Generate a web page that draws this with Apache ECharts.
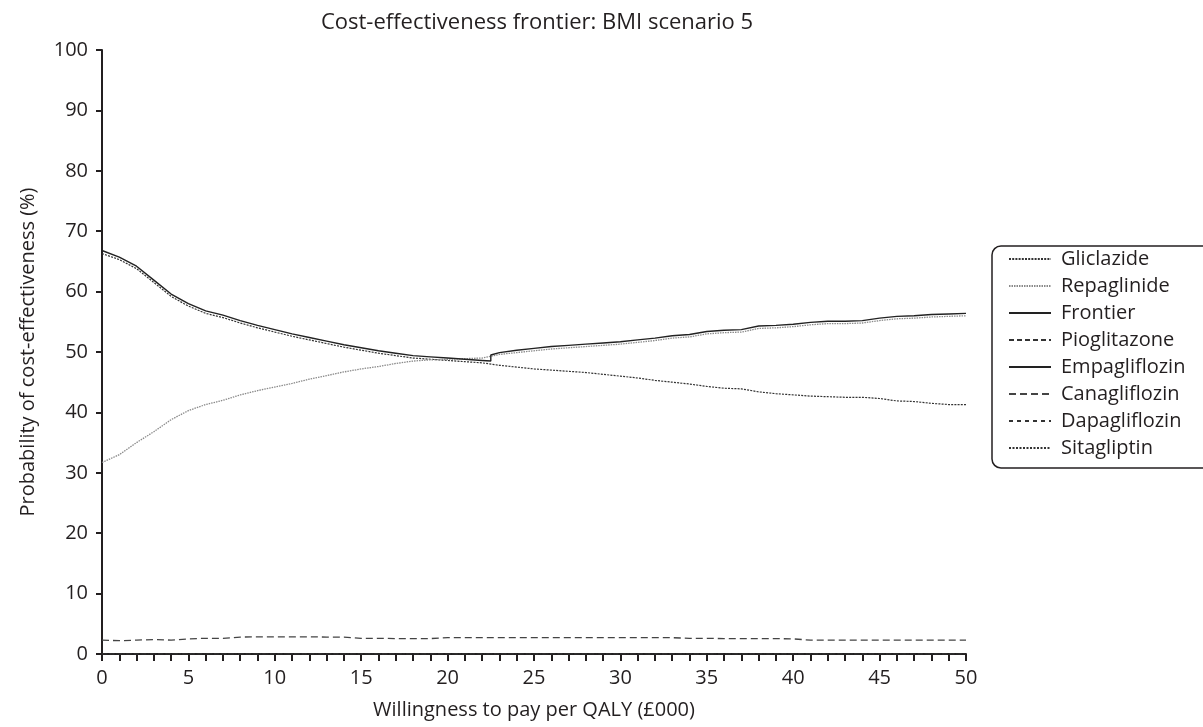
<!DOCTYPE html>
<html>
<head>
<meta charset="utf-8">
<script src="https://cdn.jsdelivr.net/npm/echarts@6/dist/echarts.min.js"></script>
<style>html,body{margin:0;padding:0;background:#fff;}#c{width:1203px;height:727px;}</style>
</head>
<body>
<div id="c"></div>
<script>
const titleText = 'Cost-effectiveness frontier: BMI scenario 5';
const xName = 'Willingness to pay per QALY (£000)';
const yName = 'Probability of cost-effectiveness (%)';
const seriesNames = ['Gliclazide','Repaglinide','Frontier','Pioglitazone','Empagliflozin','Canagliflozin','Dapagliflozin','Sitagliptin'];

const wtp = [0,1,2,3,4,5,6,7,8,9,10,11,12,13,14,15,16,17,18,19,20,21,22,23,24,25,26,27,28,29,30,31,32,33,34,35,36,37,38,39,40,41,42,43,44,45,46,47,48,49,50];

const gliclazide = [66.3,65.3,63.8,61.5,59.2,57.6,56.4,55.7,54.8,54.0,53.3,52.6,52.0,51.4,50.8,50.3,49.8,49.4,49.0,48.8,48.6,48.4,48.2,47.8,47.5,47.2,47.0,46.8,46.6,46.3,46.0,45.7,45.3,45.0,44.7,44.3,44.0,43.9,43.4,43.1,42.9,42.7,42.6,42.5,42.5,42.3,41.9,41.8,41.5,41.3,41.3];
const repaglinide = [31.7,33.0,35.0,36.8,38.8,40.3,41.3,42.0,42.9,43.6,44.2,44.8,45.5,46.1,46.7,47.2,47.6,48.1,48.5,48.7,48.8,48.9,49.0,49.6,49.9,50.2,50.5,50.7,50.9,51.1,51.3,51.6,51.9,52.3,52.5,53.0,53.2,53.3,53.9,54.0,54.2,54.5,54.7,54.7,54.8,55.2,55.5,55.6,55.8,55.9,56.0];
const frontierX = [0,1,2,3,4,5,6,7,8,9,10,11,12,13,14,15,16,17,18,19,20,21,22,22.5,22.5,23,24,25,26,27,28,29,30,31,32,33,34,35,36,37,38,39,40,41,42,43,44,45,46,47,48,49,50];
const frontierY = [66.8,65.7,64.2,61.9,59.6,58.0,56.8,56.1,55.2,54.4,53.7,53.0,52.4,51.8,51.2,50.7,50.2,49.8,49.4,49.2,49.0,48.8,48.6,48.5,49.5,49.9,50.3,50.6,50.9,51.1,51.3,51.5,51.7,52.0,52.3,52.7,52.9,53.4,53.6,53.7,54.3,54.4,54.6,54.9,55.1,55.1,55.2,55.6,55.9,56.0,56.2,56.3,56.4];
const pioglitazone = [0,0,0,0,0,0,0,0,0,0,0,0,0,0,0,0,0,0,0,0,0,0,0,0,0,0,0,0,0,0,0,0,0,0,0,0,0,0,0,0,0,0,0,0,0,0,0,0,0,0,0];
const empagliflozin = [0,0,0,0,0,0,0,0,0,0,0,0,0,0,0,0,0,0,0,0,0,0,0,0,0,0,0,0,0,0,0,0,0,0,0,0,0,0,0,0,0,0,0,0,0,0,0,0,0,0,0];
const canagliflozin = [2.3,2.2,2.3,2.4,2.3,2.5,2.6,2.6,2.8,2.85,2.85,2.85,2.85,2.8,2.8,2.6,2.6,2.55,2.55,2.55,2.7,2.7,2.7,2.7,2.7,2.7,2.7,2.7,2.7,2.7,2.7,2.7,2.7,2.7,2.6,2.6,2.55,2.55,2.55,2.55,2.5,2.3,2.3,2.3,2.3,2.3,2.3,2.3,2.3,2.3,2.3];
const dapagliflozin = [0,0,0,0,0,0,0,0,0,0,0,0,0,0,0,0,0,0,0,0,0,0,0,0,0,0,0,0,0,0,0,0,0,0,0,0,0,0,0,0,0,0,0,0,0,0,0,0,0,0,0];
const sitagliptin = [0,0,0,0,0,0,0,0,0,0,0,0,0,0,0,0,0,0,0,0,0,0,0,0,0,0,0,0,0,0,0,0,0,0,0,0,0,0,0,0,0,0,0,0,0,0,0,0,0,0,0];

const FONT = 'Open Sans';
const INK = '#231f20';
const CLEAR = 'rgba(0,0,0,0)';

function pairs(xs, ys){ return xs.map((x,i)=>[x, ys[i]]); }
function mk(name, xs, ys, color, type, width, z){
  return {name, type:'line', data:pairs(xs, ys), symbol:'none', silent:true, z:z||2,
    lineStyle:{color, type, width}, itemStyle:{color:CLEAR, borderWidth:0}};
}

const chart = echarts.init(document.getElementById('c'));
chart.setOption({
  animation:false,
  backgroundColor:'#fff',
  textStyle:{fontFamily:FONT, color:INK},
  title:{text:titleText, left:532, textAlign:'center', top:7,
    textStyle:{fontFamily:FONT, fontSize:22, fontWeight:'normal', color:INK}},
  grid:{left:102, right:237, top:50, bottom:73, containLabel:false},
  xAxis:{type:'value', min:0, max:50, interval:5,
    name:xName, nameLocation:'middle', nameGap:46,
    nameTextStyle:{fontFamily:FONT, fontSize:20, color:INK},
    axisLine:{lineStyle:{color:INK, width:2}},
    axisTick:{show:true, inside:false, length:7, lineStyle:{color:INK, width:2}},
    minorTick:{show:true, splitNumber:5, length:7, lineStyle:{color:INK, width:2}},
    axisLabel:{fontFamily:FONT, fontSize:20, color:INK, margin:14},
    splitLine:{show:false}},
  yAxis:{type:'value', min:0, max:100, interval:10,
    name:yName, nameLocation:'middle', nameGap:64,
    nameTextStyle:{fontFamily:FONT, fontSize:20, color:INK},
    axisLine:{show:true, lineStyle:{color:INK, width:2}},
    axisTick:{show:true, inside:false, length:6, lineStyle:{color:INK, width:2}},
    axisLabel:{fontFamily:FONT, fontSize:20, color:INK, margin:14},
    splitLine:{show:false}},
  legend:{orient:'vertical', left:992, top:246, itemWidth:42, itemHeight:10, itemGap:7,
    padding:[3,30,10,16], borderColor:INK, borderWidth:1.5, borderRadius:9,
    itemStyle:{color:CLEAR, borderWidth:0, borderColor:CLEAR, opacity:0},
    textStyle:{fontFamily:FONT, fontSize:20, color:INK, padding:[0,0,0,5]},
    data:seriesNames},
  series:[
    mk('Gliclazide', wtp, gliclazide, '#333', [2,1.2], 1.2, 3),
    mk('Repaglinide', wtp, repaglinide, '#8a8a8a', [1.5,1], 1.3, 3),
    mk('Frontier', frontierX, frontierY, '#222', 'solid', 1.4, 4),
    mk('Pioglitazone', wtp, pioglitazone, '#333', [5,3], 1.2, 1),
    mk('Empagliflozin', wtp, empagliflozin, '#222', 'solid', 1.2, 1),
    mk('Canagliflozin', wtp, canagliflozin, '#444', [7,4], 1.3, 3),
    mk('Dapagliflozin', wtp, dapagliflozin, '#333', [4,4], 1.2, 1),
    mk('Sitagliptin', wtp, sitagliptin, '#333', [2,1.5], 1.2, 1)
  ]
});
</script>
</body>
</html>
